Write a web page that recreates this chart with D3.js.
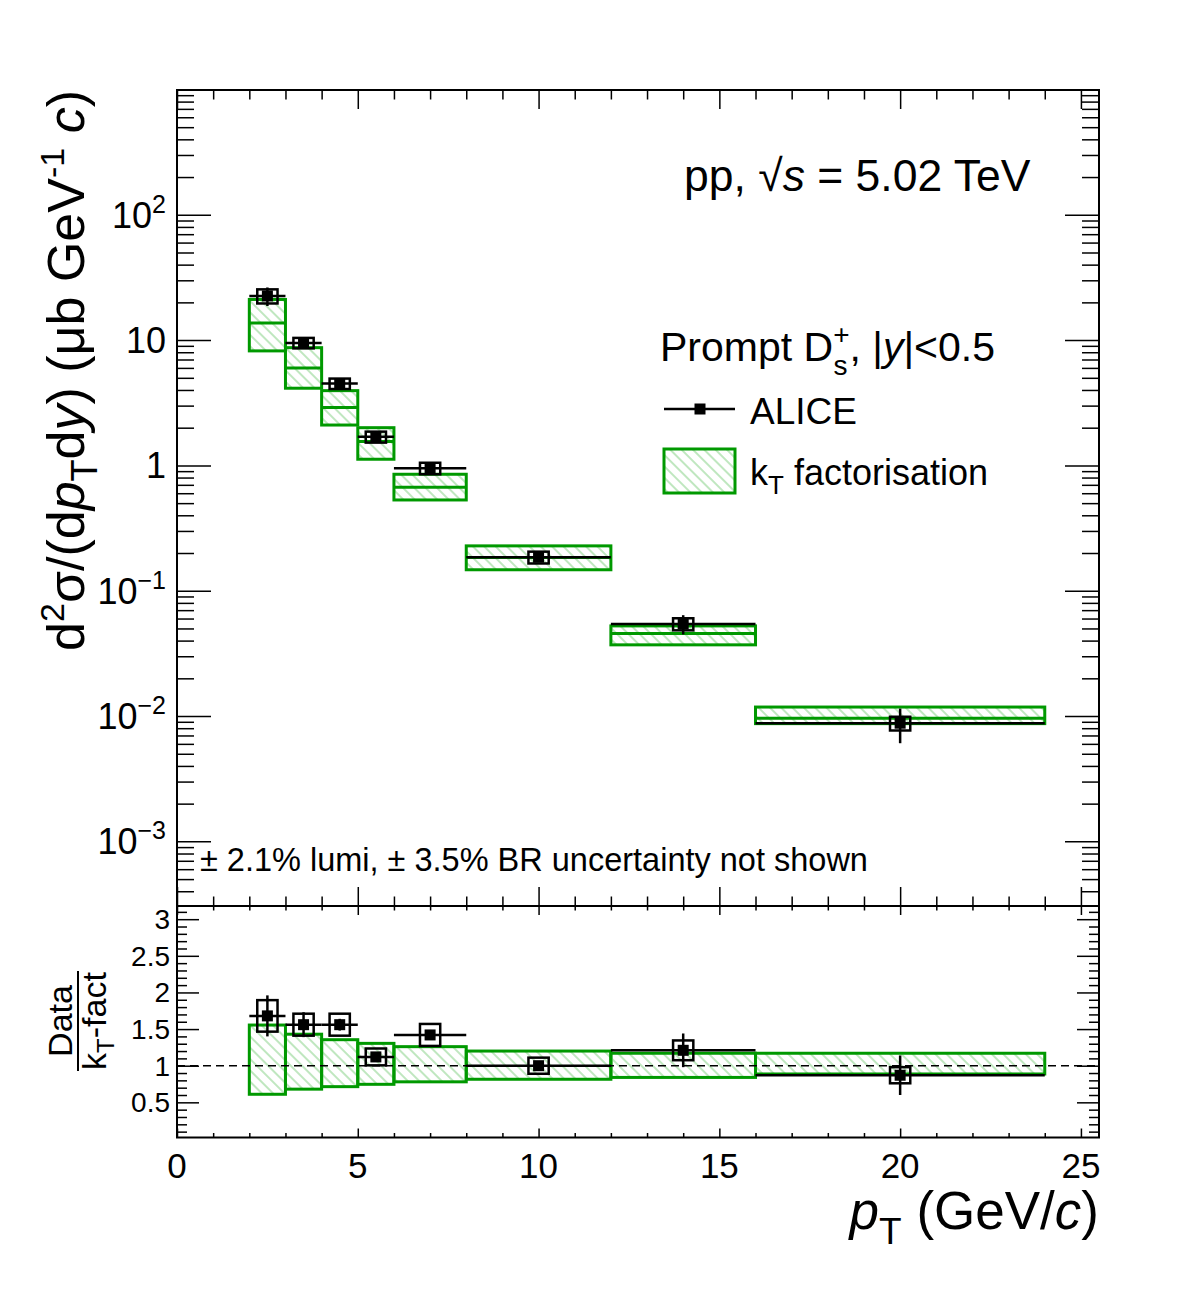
<!DOCTYPE html>
<html>
<head>
<meta charset="utf-8">
<script src="https://cdn.jsdelivr.net/npm/d3@7"></script>
<style>
  body { margin: 0; background: #ffffff; }
  text { font-family: "Liberation Sans", Arial, Helvetica, sans-serif; fill: #000; }
</style>
</head>
<body>
<svg id="chart" width="1182" height="1294"></svg>
<script>
// bins in pT (GeV/c)
const binLo = [2, 3, 4, 5, 6, 8, 12, 16];
const binHi = [3, 4, 5, 6, 8, 12, 16, 24];
const ptCenter = [2.5, 3.5, 4.5, 5.5, 7, 10, 14, 20];

// ALICE cross section (ub GeV^-1 c)
const aliceVal = [22.5, 9.5, 4.5, 1.69, 0.95, 0.185, 0.0543, 0.00877];
const aliceStat = [3.8, 1.0, 0.22, 0.08, 0.033, 0.011, 0.0095, 0.0027];
const aliceSys = [2.9, 0.91, 0.43, 0.17, 0.10, 0.020, 0.006, 0.0011];

// kT factorisation prediction
const ktCentral = [13.7, 6.0, 2.9, 1.55, 0.67, 0.184, 0.0455, 0.0096];
const ktHi = [21.1, 8.7, 3.95, 2.0, 0.85, 0.228, 0.0524, 0.0118];
const ktLo = [8.2, 4.13, 2.10, 1.12, 0.53, 0.147, 0.037, 0.0087];

// ratio data / kT-fact
const ratioVal = [1.68, 1.56, 1.56, 1.12, 1.42, 1.0, 1.21, 0.87];
const ratioStat = [0.28, 0.17, 0.08, 0.06, 0.05, 0.06, 0.23, 0.27];
const ratioSys = [0.215, 0.15, 0.15, 0.115, 0.15, 0.11, 0.135, 0.11];
const ktRatioHi = [1.555, 1.43, 1.355, 1.305, 1.26, 1.2, 1.17, 1.17];
const ktRatioLo = [0.61, 0.68, 0.714, 0.746, 0.78, 0.815, 0.84, 0.887];

// tick labels
const xLabels = [0, 5, 10, 15, 20, 25];
const yTopLabels = [
  { v: 1e-3, base: "10", sup: "\u22123" },
  { v: 1e-2, base: "10", sup: "\u22122" },
  { v: 1e-1, base: "10", sup: "\u22121" },
  { v: 1, base: "1", sup: "" },
  { v: 10, base: "10", sup: "" },
  { v: 100, base: "10", sup: "2" }
];
const yRatioLabels = [0.5, 1, 1.5, 2, 2.5, 3];

const green = "#009900";
const L = 177, R = 1099, T = 90, MID = 906, B = 1137.5;

const svg = d3.select("#chart");

const x = d3.scaleLinear().domain([0, 25.5]).range([L, R]);
const yTop = d3.scaleLog().domain([3.05e-4, 990]).range([MID, T]);
const yRat = d3.scaleLinear().domain([0.02, 3.18]).range([B, MID]);

// hatch pattern
const defs = svg.append("defs");
const pat = defs.append("pattern")
  .attr("id", "hatch")
  .attr("patternUnits", "userSpaceOnUse")
  .attr("width", 8).attr("height", 8)
  .attr("patternTransform", "rotate(-45)");
pat.append("line")
  .attr("x1", 4).attr("y1", 0).attr("x2", 4).attr("y2", 8)
  .attr("stroke", "#7fcf7f").attr("stroke-width", 1);

// ---------- axes (ticks pointing inwards, ROOT style) ----------
function cleanAxis(g) {
  g.select(".domain").remove();
  g.selectAll(".tick line").attr("stroke", "#000").attr("stroke-width", 1.5);
}

function xAxes(yPos, major, minor, dir) {
  // dir = 1 -> ticks go up (bottom axis), -1 -> ticks go down (top axis)
  const mk = dir > 0 ? d3.axisBottom : d3.axisTop;
  svg.append("g").attr("transform", `translate(0,${yPos})`)
    .call(mk(x).tickValues(d3.range(0, 26, 5)).tickSize(-major).tickFormat(""))
    .call(cleanAxis);
  svg.append("g").attr("transform", `translate(0,${yPos})`)
    .call(mk(x).tickValues(d3.range(0, 26, 1).filter(d => d % 5 !== 0)).tickSize(-minor).tickFormat(""))
    .call(cleanAxis);
}

// top panel x ticks
xAxes(MID, 19, 9.5, 1);
xAxes(T, 19, 9.5, -1);
// ratio panel x ticks
xAxes(B, 9, 4.5, 1);
xAxes(MID, 9, 4.5, -1);

// log y ticks
const logMajor = [1e-3, 1e-2, 1e-1, 1, 10, 100];
const logMinor = [];
for (let e = -4; e <= 2; e++) {
  for (let m = 2; m <= 9; m++) {
    const v = m * Math.pow(10, e);
    if (v >= 3.05e-4 && v <= 990) logMinor.push(v);
  }
}
[[d3.axisLeft, L], [d3.axisRight, R]].forEach(([mk, xp]) => {
  svg.append("g").attr("transform", `translate(${xp},0)`)
    .call(mk(yTop).tickValues(logMajor).tickSize(-34).tickFormat(""))
    .call(cleanAxis);
  svg.append("g").attr("transform", `translate(${xp},0)`)
    .call(mk(yTop).tickValues(logMinor).tickSize(-17).tickFormat(""))
    .call(cleanAxis);
  // ratio y ticks
  svg.append("g").attr("transform", `translate(${xp},0)`)
    .call(mk(yRat).tickValues(d3.range(0.5, 3.01, 0.5)).tickSize(-22).tickFormat(""))
    .call(cleanAxis);
  svg.append("g").attr("transform", `translate(${xp},0)`)
    .call(mk(yRat).tickValues(d3.range(1, 32, 1).map(d => d / 10).filter(d => Math.abs(d * 2 - Math.round(d * 2)) > 1e-6)).tickSize(-10).tickFormat(""))
    .call(cleanAxis);
});

// ---------- tick labels ----------
svg.append("g").selectAll("text").data(xLabels).enter().append("text")
  .attr("x", d => x(d)).attr("y", 1178)
  .attr("text-anchor", "middle").attr("font-size", 35)
  .text(d => d);

const yl = svg.append("g").selectAll("text").data(yTopLabels).enter().append("text")
  .attr("x", 166).attr("y", d => yTop(d.v) + 13)
  .attr("text-anchor", "end").attr("font-size", 36);
yl.append("tspan").text(d => d.base);
yl.filter(d => d.sup !== "").append("tspan")
  .attr("dy", -15).attr("font-size", 25).text(d => d.sup);

svg.append("g").selectAll("text").data(yRatioLabels).enter().append("text")
  .attr("x", 170).attr("y", d => yRat(d) + 10)
  .attr("text-anchor", "end").attr("font-size", 28)
  .text(d => d);

// ---------- top panel: kT factorisation boxes ----------
const idx = d3.range(binLo.length);

const topModel = svg.append("g");
topModel.selectAll("rect.fill").data(idx).enter().append("rect")
  .attr("x", i => x(binLo[i])).attr("width", i => x(binHi[i]) - x(binLo[i]))
  .attr("y", i => yTop(ktHi[i])).attr("height", i => yTop(ktLo[i]) - yTop(ktHi[i]))
  .attr("fill", "url(#hatch)").attr("stroke", green).attr("stroke-width", 3);
topModel.selectAll("line.central").data(idx).enter().append("line")
  .attr("x1", i => x(binLo[i])).attr("x2", i => x(binHi[i]))
  .attr("y1", i => yTop(ktCentral[i])).attr("y2", i => yTop(ktCentral[i]))
  .attr("stroke", green).attr("stroke-width", 3);

// ---------- data drawing helper ----------
function drawData(g, yS, val, stat, sys) {
  g.selectAll("line.h").data(idx).enter().append("line")
    .attr("x1", i => x(binLo[i])).attr("x2", i => x(binHi[i]))
    .attr("y1", i => yS(val[i])).attr("y2", i => yS(val[i]))
    .attr("stroke", "#000").attr("stroke-width", 2.5);
  g.selectAll("line.v").data(idx).enter().append("line")
    .attr("x1", i => x(ptCenter[i])).attr("x2", i => x(ptCenter[i]))
    .attr("y1", i => yS(val[i] + stat[i])).attr("y2", i => yS(val[i] - stat[i]))
    .attr("stroke", "#000").attr("stroke-width", 2.5);
  g.selectAll("rect.sys").data(idx).enter().append("rect")
    .attr("x", i => x(ptCenter[i] - 0.28)).attr("width", x(0.56) - x(0))
    .attr("y", i => yS(val[i] + sys[i])).attr("height", i => yS(val[i] - sys[i]) - yS(val[i] + sys[i]))
    .attr("fill", "none").attr("stroke", "#000").attr("stroke-width", 2.5);
  g.selectAll("rect.mk").data(idx).enter().append("rect")
    .attr("x", i => x(ptCenter[i]) - 5.5).attr("y", i => yS(val[i]) - 5.5)
    .attr("width", 11).attr("height", 11).attr("fill", "#000");
}

drawData(svg.append("g"), yTop, aliceVal, aliceStat, aliceSys);

// ---------- ratio panel ----------
const ratModel = svg.append("g");
ratModel.selectAll("rect").data(idx).enter().append("rect")
  .attr("x", i => x(binLo[i])).attr("width", i => x(binHi[i]) - x(binLo[i]))
  .attr("y", i => yRat(ktRatioHi[i])).attr("height", i => yRat(ktRatioLo[i]) - yRat(ktRatioHi[i]))
  .attr("fill", "url(#hatch)").attr("stroke", green).attr("stroke-width", 3);

svg.append("line")
  .attr("x1", L).attr("x2", R).attr("y1", yRat(1)).attr("y2", yRat(1))
  .attr("stroke", "#000").attr("stroke-width", 1.5).attr("stroke-dasharray", "8,5");

drawData(svg.append("g"), yRat, ratioVal, ratioStat, ratioSys);

// ---------- frames ----------
svg.append("rect").attr("x", L).attr("y", T).attr("width", R - L).attr("height", MID - T)
  .attr("fill", "none").attr("stroke", "#000").attr("stroke-width", 2);
svg.append("rect").attr("x", L).attr("y", MID).attr("width", R - L).attr("height", B - MID)
  .attr("fill", "none").attr("stroke", "#000").attr("stroke-width", 2);

// ---------- texts ----------
const energy = svg.append("text").attr("x", 684).attr("y", 191).attr("font-size", 44.5);
energy.append("tspan").text("pp, \u221A");
energy.append("tspan").attr("font-style", "italic").text("s");
energy.append("tspan").text(" = 5.02 TeV");

svg.append("text").attr("x", 200).attr("y", 871).attr("font-size", 32.5)
  .text("\u00B1 2.1% lumi, \u00B1 3.5% BR uncertainty not shown");

// legend
const head = svg.append("text").attr("x", 660).attr("y", 361).attr("font-size", 41);
head.append("tspan").text("Prompt D");
head.append("tspan").attr("font-size", 28).attr("dy", -17).text("+");
head.append("tspan").attr("font-size", 28).attr("dx", -16).attr("dy", 31).text("s");
head.append("tspan").attr("dx", 2).attr("dy", -14).text(", |");
head.append("tspan").attr("font-style", "italic").text("y");
head.append("tspan").text("|<0.5");

svg.append("line").attr("x1", 664).attr("x2", 735).attr("y1", 409).attr("y2", 409)
  .attr("stroke", "#000").attr("stroke-width", 2.5);
svg.append("rect").attr("x", 700 - 5.5).attr("y", 409 - 5.5).attr("width", 11).attr("height", 11).attr("fill", "#000");
svg.append("text").attr("x", 750).attr("y", 424).attr("font-size", 37).text("ALICE");

svg.append("rect").attr("x", 664).attr("y", 449).attr("width", 71).attr("height", 44)
  .attr("fill", "url(#hatch)").attr("stroke", green).attr("stroke-width", 3);
const ktLeg = svg.append("text").attr("x", 750).attr("y", 485).attr("font-size", 36);
ktLeg.append("tspan").text("k");
ktLeg.append("tspan").attr("font-size", 26).attr("dy", 9).text("T");
ktLeg.append("tspan").attr("dy", -9).text(" factorisation");

// y title (top panel)
const yTitle = svg.append("text")
  .attr("transform", "translate(84,90) rotate(-90)")
  .attr("text-anchor", "end").attr("font-size", 52);
yTitle.append("tspan").text("d");
yTitle.append("tspan").attr("font-size", 34).attr("dy", -20).text("2");
yTitle.append("tspan").attr("dy", 20).text("\u03C3/(d");
yTitle.append("tspan").attr("font-style", "italic").text("p");
yTitle.append("tspan").attr("font-size", 36).attr("dy", 13).text("T");
yTitle.append("tspan").attr("dy", -13).text("d");
yTitle.append("tspan").attr("font-style", "italic").text("y");
yTitle.append("tspan").text(") (\u03BCb GeV");
yTitle.append("tspan").attr("font-size", 34).attr("dy", -20).text("-1");
yTitle.append("tspan").attr("dy", 20).text(" ");
yTitle.append("tspan").attr("font-style", "italic").text("c");
yTitle.append("tspan").text(")");

// ratio y title
const rt = svg.append("g").attr("transform", "translate(0,1021) rotate(-90)");
rt.append("text").attr("x", 0).attr("y", 72).attr("text-anchor", "middle").attr("font-size", 34).text("Data");
rt.append("line").attr("x1", -50).attr("x2", 50).attr("y1", 78).attr("y2", 78)
  .attr("stroke", "#000").attr("stroke-width", 2);
const rtb = rt.append("text").attr("x", 0).attr("y", 106).attr("text-anchor", "middle").attr("font-size", 34);
rtb.append("tspan").text("k");
rtb.append("tspan").attr("font-size", 24).attr("dy", 8).text("T");
rtb.append("tspan").attr("dy", -8).text("-fact");

// x title
const xt = svg.append("text").attr("x", R).attr("y", 1229).attr("text-anchor", "end").attr("font-size", 53);
xt.append("tspan").attr("font-style", "italic").text("p");
xt.append("tspan").attr("font-size", 37).attr("dy", 15).text("T");
xt.append("tspan").attr("dy", -15).text(" (GeV/");
xt.append("tspan").attr("font-style", "italic").text("c");
xt.append("tspan").text(")");
</script>
</body>
</html>
